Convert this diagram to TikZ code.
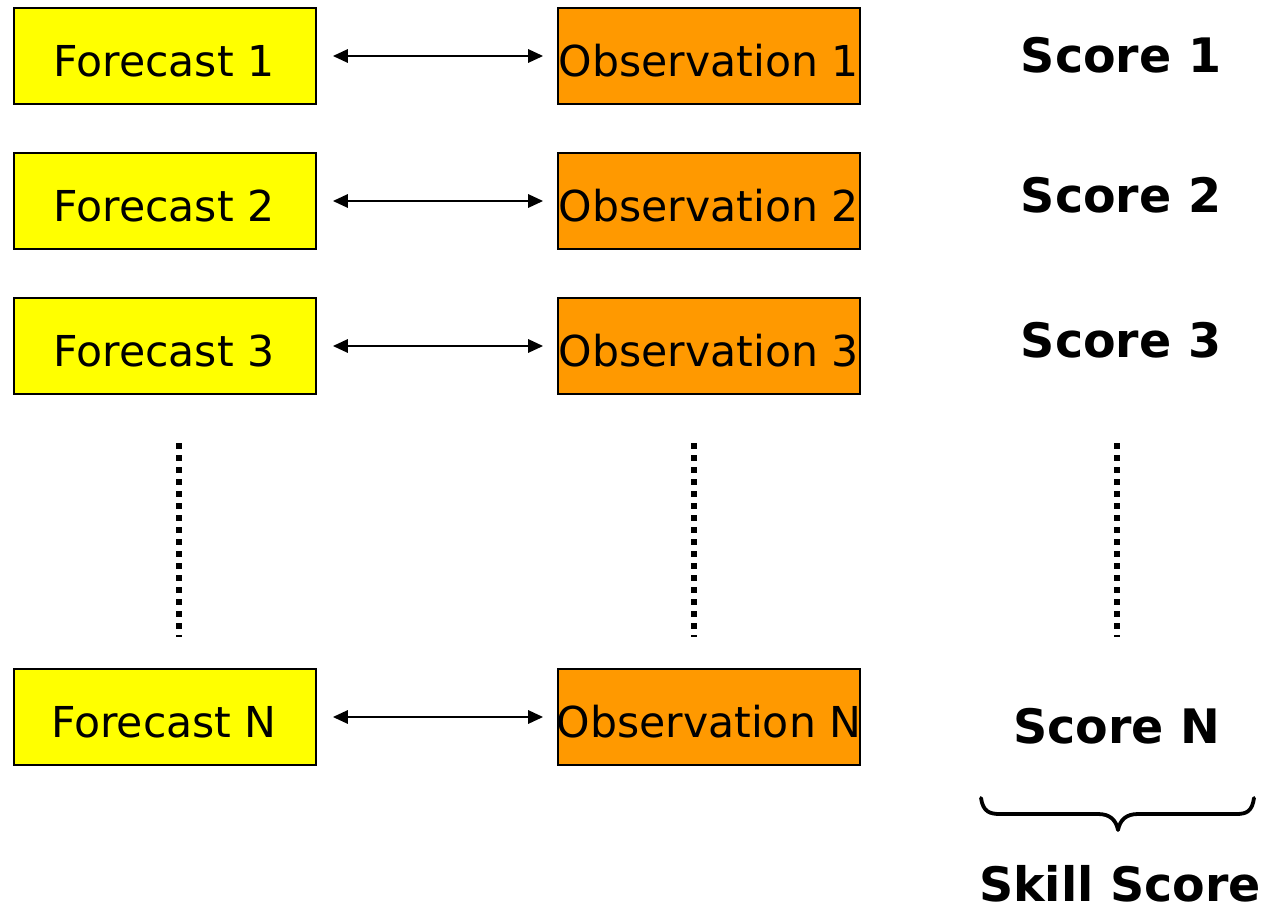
\documentclass[tikz,border=0pt]{standalone}
\usepackage{fontspec}
\setmainfont{DejaVu Sans}
\usetikzlibrary{arrows.meta}
\definecolor{fcyellow}{HTML}{FFFF00}
\definecolor{oborange}{HTML}{FF9900}
\begin{document}
\begin{tikzpicture}[x=1pt,y=-1pt,
  fcbox/.style={draw=black,line width=1.6pt,fill=fcyellow,minimum width=302pt,minimum height=96pt,inner sep=0pt,font=\fontsize{42.6}{50}\selectfont},
  obbox/.style={draw=black,line width=1.6pt,fill=oborange,minimum width=302pt,minimum height=96pt,inner sep=0pt,font=\fontsize{42.6}{50}\selectfont},
  boxtext/.style={anchor=base,inner sep=0pt,font=\fontsize{42.6}{50}\selectfont},
  scorelbl/.style={anchor=base,inner sep=0pt,font=\fontsize{47.5}{56}\selectfont\bfseries},
  pairarrow/.style={line width=2.8pt,{Triangle[length=15pt,width=13pt]}-{Triangle[length=15pt,width=13pt]},shorten <=16pt,shorten >=14pt},
  dotline/.style={line width=6pt,dash pattern=on 6pt off 6pt}
]
\useasboundingbox (0,0) rectangle (1268,907);
\node[fcbox] (f1) at (165,56) {};
\node[fcbox] (f2) at (165,201) {};
\node[fcbox] (f3) at (165,346) {};
\node[fcbox] (fN) at (165,717) {};
\node[obbox] (o1) at (709,56) {};
\node[obbox] (o2) at (709,201) {};
\node[obbox] (o3) at (709,346) {};
\node[obbox] (oN) at (709,717) {};
\node[boxtext] (tf1) at (164,76) {Forecast 1};
\node[boxtext] (tf2) at (164,221) {Forecast 2};
\node[boxtext] (tf3) at (164,366) {Forecast 3};
\node[boxtext] (tfN) at (164,737) {Forecast N};
\node[boxtext] (to1) at (709,76) {Observation 1};
\node[boxtext] (to2) at (709,221) {Observation 2};
\node[boxtext] (to3) at (709,366) {Observation 3};
\node[boxtext] (toN) at (709,737) {Observation N};
\foreach \r in {1,2,3,N}{\draw[pairarrow] (f\r.east) -- (o\r.west);}
\node[scorelbl] (s1) at (1121,73) {Score 1};
\node[scorelbl] (s2) at (1121,212) {Score 2};
\node[scorelbl] (s3) at (1121,357) {Score 3};
\node[scorelbl] (sN) at (1117,743) {Score N};
\node[scorelbl] (ss) at (1120,901) {Skill Score};
\coordinate (d1a) at (179,443); \coordinate (d1b) at (179,637);
\coordinate (d2a) at (694,443); \coordinate (d2b) at (694,637);
\coordinate (d3a) at (1117,443); \coordinate (d3b) at (1117,637);
\draw[dotline] (d1a) -- (d1b);
\draw[dotline] (d2a) -- (d2b);
\draw[dotline] (d3a) -- (d3b);
\coordinate (bl) at (981,798);
\coordinate (br) at (1254,798);
\coordinate (bt) at (1118,830);
\draw[line width=3.8pt,line cap=round,line join=round]
  (bl) .. controls (983,812) and (990,814) .. (1000,814)
  -- (1098,814) .. controls (1110,814) and (1116,820) .. (bt)
  .. controls (1120,820) and (1126,814) .. (1138,814)
  -- (1236,814) .. controls (1246,814) and (1252,812) .. (br);
\end{tikzpicture}
\end{document}
